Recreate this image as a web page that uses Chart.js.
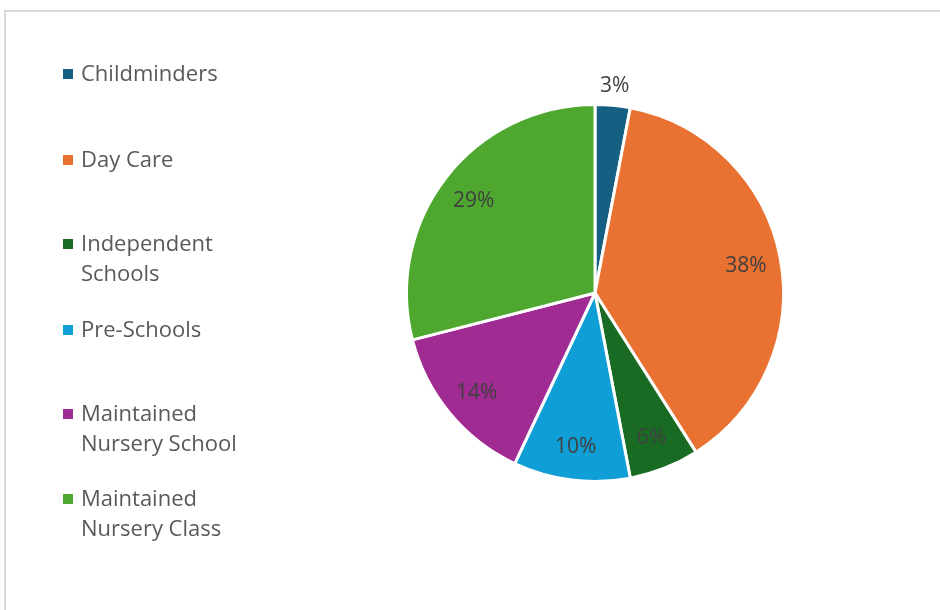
<!DOCTYPE html>
<html>
<head>
<meta charset="utf-8">
<script src="https://cdn.jsdelivr.net/npm/chart.js@4"></script>
<style>
    body { margin: 0; background: #fff; }
    #wrap { position: relative; width: 940px; height: 610px; overflow: hidden; }
    #frame { position: absolute; left: 4px; top: 10px; width: 960px; height: 640px; border: 2px solid #d9d9d9; box-sizing: border-box; }
    #myChart { position: absolute; left: 0; top: 0; }
    .item { position: absolute; left: 63px; font-family: 'Open Sans', sans-serif; font-size: 22px; line-height: 29.5px; color: #595959; }
    .item .sw { position: absolute; left: 0; width: 10px; height: 10px; top: 11px; }
    .item .txt { margin-left: 18px; white-space: nowrap; }
</style>
</head>
<body>
<div id="wrap">
    <div id="frame"></div>
    <canvas id="myChart" width="940" height="610"></canvas>
    <div id="legend"></div>
</div>
<script>
const categories = ['Childminders', 'Day Care', 'Independent\nSchools', 'Pre-Schools', 'Maintained\nNursery School', 'Maintained\nNursery Class'];
const shares = [3, 38, 6, 10, 14, 29];
const colours = ['#156082', '#e97132', '#196b24', '#0f9ed5', '#a02b93', '#4ea72e'];
const legendTops = [58, 144, 228, 314, 398, 483]; // top of first line of each legend entry

// legend built by hand, spacing is uneven in the original
const legendEl = document.getElementById('legend');
categories.forEach((name, i) => {
    const div = document.createElement('div');
    div.className = 'item';
    div.style.top = legendTops[i] + 'px';
    div.innerHTML = '<span class="sw" style="background:' + colours[i] + '"></span><div class="txt">' + name.replace('\n', '<br>') + '</div>';
    legendEl.appendChild(div);
});

const pctLabels = {
    id: 'pctLabels',
    afterDatasetsDraw(chart) {
        const ctx = chart.ctx;
        const meta = chart.getDatasetMeta(0);
        ctx.save();
        ctx.font = '21px "Open Sans", sans-serif';
        ctx.fillStyle = '#404040';
        ctx.textAlign = 'center';
        ctx.textBaseline = 'middle';
        meta.data.forEach((arc, i) => {
            const mid = (arc.startAngle + arc.endAngle) / 2;
            // small slice gets its label outside the pie
            const r = shares[i] < 5 ? arc.outerRadius + 21 : arc.outerRadius * 0.815;
            ctx.fillText(shares[i] + '%', arc.x + Math.cos(mid) * r, arc.y + Math.sin(mid) * r + 2);
        });
        ctx.restore();
    }
};

const ctx = document.getElementById('myChart').getContext('2d');
new Chart(ctx, {
    type: 'pie',
    data: {
        labels: categories,
        datasets: [{
            data: shares,
            backgroundColor: colours,
            borderColor: '#ffffff',
            borderWidth: 3
        }]
    },
    options: {
        responsive: false,
        animation: false,
        layout: { padding: { top: 103, bottom: 127, left: 405, right: 155 } },
        plugins: {
            legend: { display: false },
            tooltip: { enabled: false }
        }
    },
    plugins: [pctLabels]
});
</script>
</body>
</html>
